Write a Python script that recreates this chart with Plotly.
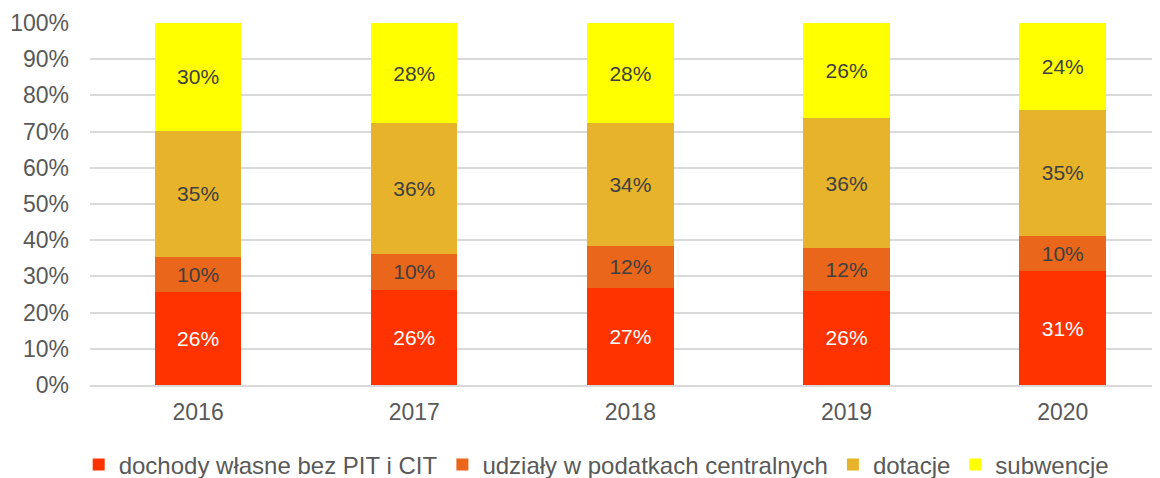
import plotly.graph_objects as go

years = ["2016", "2017", "2018", "2019", "2020"]
dochody = [25.7, 26.3, 26.8, 26.0, 31.4]
udzialy = [9.6, 10.0, 11.7, 11.8, 9.8]
dotacje = [35.0, 36.0, 33.8, 36.0, 34.8]
subwencje = [29.7, 27.7, 27.7, 26.2, 24.0]

series = [
    ("dochody własne bez PIT i CIT", dochody, "#FF3300", "#FFFFFF"),
    ("udziały w podatkach centralnych", udzialy, "#E9661A", "#404040"),
    ("dotacje", dotacje, "#E6B32B", "#404040"),
    ("subwencje", subwencje, "#FFFF00", "#404040"),
]

FONT = "Liberation Sans, Arial"

fig = go.Figure()
for name, vals, color, tcol in series:
    fig.add_trace(go.Bar(
        x=years, y=vals, name=name,
        marker=dict(color=color, line=dict(width=0)),
        texttemplate="%{y:.0f}%", textposition="inside",
        insidetextanchor="middle",
        textfont=dict(color=tcol, size=21, family=FONT),
        hoverinfo="skip",
    ))

fig.update_layout(
    barmode="stack",
    bargap=0.6,
    width=1152, height=470,
    margin=dict(l=82, r=0, t=15, b=93, autoexpand=False),
    plot_bgcolor="white", paper_bgcolor="white",
    font=dict(family=FONT, size=23, color="#595959"),
    showlegend=True,
    legend=dict(orientation="h", x=0.511, xanchor="center", xref="container",
                y=-0.221, yanchor="middle", yref="paper",
                font=dict(size=24, color="#595959"),
                itemwidth=30, traceorder="normal"),
    xaxis=dict(range=[-0.5, 4.45], showline=True, linecolor="#D9D9D9", linewidth=2,
               ticks="", tickfont=dict(size=23, color="#595959"), automargin=False,
               ticklabelstandoff=5),
    yaxis=dict(range=[0, 100], dtick=10, ticksuffix="%", showgrid=True,
               gridcolor="#D9D9D9", gridwidth=2, zeroline=False, showline=False,
               tickfont=dict(size=23, color="#595959"), ticklabelstandoff=20,
               automargin=False),
)

fig.write_html("out.html")
